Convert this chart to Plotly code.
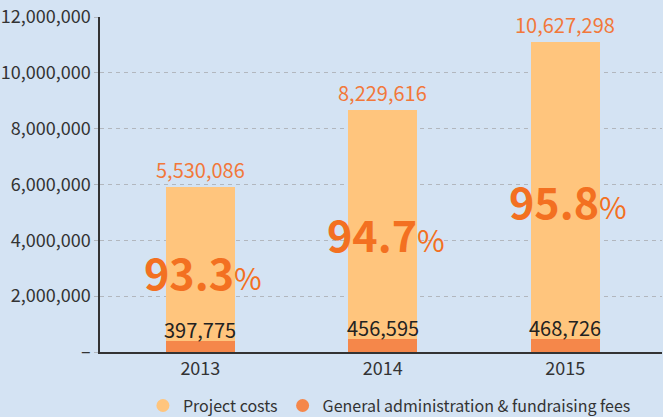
import plotly.graph_objects as go

# ---- data ----
years = ["2013", "2014", "2015"]
project_costs = [5530086, 8229616, 10627298]
admin_fees = [397775, 456595, 468726]
series_names = ["Project costs", "General administration & fundraising fees"]
tick_values = [0, 2000000, 4000000, 6000000, 8000000, 10000000, 12000000]
tick_labels = ["–", "2,000,000", "4,000,000", "6,000,000", "8,000,000", "10,000,000", "12,000,000"]

totals = [p + a for p, a in zip(project_costs, admin_fees)]
shares = [p / t * 100 for p, t in zip(project_costs, totals)]

# ---- styles ----
BG = "#D4E3F3"
PROJECT = "#FFC57D"
ADMIN = "#F5874A"
VALUE_ORANGE = "#F2783A"
PCT_ORANGE = "#F37021"
DARK = "#333333"
GRID = "#B2B7BE"
FONT = "Noto Sans CJK KR, Noto Sans, sans-serif"
BAR_W = 0.378

fig = go.Figure()
fig.add_bar(x=years, y=admin_fees, marker=dict(color=ADMIN, line=dict(width=0)),
            width=BAR_W, showlegend=False, hoverinfo="skip")
fig.add_bar(x=years, y=project_costs, marker=dict(color=PROJECT, line=dict(width=0)),
            width=BAR_W, showlegend=False, hoverinfo="skip")

# legend entries with round markers
fig.add_scatter(x=[None], y=[None], mode="markers", name=series_names[0],
                marker=dict(color=PROJECT, size=13, symbol="circle"))
fig.add_scatter(x=[None], y=[None], mode="markers", name=series_names[1],
                marker=dict(color=ADMIN, size=13, symbol="circle"))

annotations = []
for i, (p, a, t, s) in enumerate(zip(project_costs, admin_fees, totals, shares)):
    annotations.append(dict(xref="x", yref="y", x=i, y=t, text=f"{p:,}", showarrow=False,
                            yanchor="bottom", yshift=1,
                            font=dict(family=FONT, size=20, color=VALUE_ORANGE)))
    annotations.append(dict(xref="x", yref="y", x=i, y=a, text=f"{a:,}", showarrow=False,
                            yanchor="bottom", yshift=-5,
                            font=dict(family=FONT, size=20, color="#222222")))
    annotations.append(dict(xref="x", yref="y", x=i, y=t * 0.49,
                            text=f"<b>{s:.1f}</b><span style='font-size:30px'>%</span>",
                            showarrow=False, yanchor="middle", xshift=3,
                            font=dict(family=FONT, size=43, color=PCT_ORANGE)))

fig.update_layout(
    width=663, height=417,
    margin=dict(l=100, r=1, t=17, b=65, autoexpand=False),
    paper_bgcolor=BG, plot_bgcolor=BG,
    barmode="stack", bargap=0,
    font=dict(family=FONT, color=DARK),
    showlegend=True,
    legend=dict(orientation="h", x=0.515, xanchor="center", y=-0.16, yanchor="middle",
                traceorder="normal",
                font=dict(family=FONT, size=16, color=DARK), bgcolor="rgba(0,0,0,0)",
                itemclick=False, itemdoubleclick=False),
    annotations=annotations,
    hovermode=False,
    xaxis=dict(type="category", range=[-0.55, 2.53], showline=True, linecolor=DARK,
               linewidth=1.5, ticks="", showgrid=False, zeroline=False,
               tickfont=dict(family=FONT, size=18, color=DARK)),
    yaxis=dict(range=[0, 12000000], tickmode="array", tickvals=tick_values, ticktext=tick_labels,
               showline=True, linecolor=DARK, linewidth=1.5, showgrid=True,
               gridcolor=GRID, gridwidth=1, griddash="4px,4px", zeroline=False,
               ticks="outside", ticklen=4, tickcolor=GRID, tickwidth=1,
               tickfont=dict(family=FONT, size=18, color=DARK)),
)

fig.write_html("out.html")
